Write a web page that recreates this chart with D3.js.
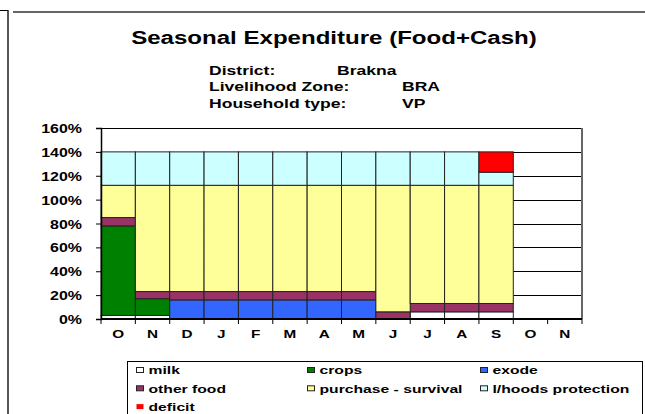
<!DOCTYPE html>
<html>
<head>
<meta charset="utf-8">
<script src="https://cdn.jsdelivr.net/npm/d3@7"></script>
<style>
  body { margin: 0; background: #fff; }
  svg { font-family: "Liberation Sans", Arial, sans-serif; font-weight: bold; }
</style>
</head>
<body>
<div id="chart"></div>
<script>
// Months (two overlapping years: O..S, then empty O, N)
const months = ["O", "N", "D", "J", "F", "M", "A", "M", "J", "J", "A", "S", "O", "N"];

// Series values, % of food needs
const milk      = [3, 3, 0, 0, 0, 0, 0, 0, 0, 6, 6, 6, 0, 0];
const crops     = [75, 14, 0, 0, 0, 0, 0, 0, 0, 0, 0, 0, 0, 0];
const exode     = [0, 0, 16, 16, 16, 16, 16, 16, 0, 0, 0, 0, 0, 0];
const otherFood = [7, 6, 7, 7, 7, 7, 7, 7, 6, 7, 7, 7, 0, 0];
const purchase  = [27, 89, 89, 89, 89, 89, 89, 89, 106, 99, 99, 99, 0, 0];
const lhoods    = [28, 28, 28, 28, 28, 28, 28, 28, 28, 28, 28, 11, 0, 0];
const deficit   = [0, 0, 0, 0, 0, 0, 0, 0, 0, 0, 0, 17, 0, 0];

const yTicks = [0, 20, 40, 60, 80, 100, 120, 140, 160];

const seriesInfo = [
  { key: "milk", label: "milk", values: milk, color: "#ffffff" },
  { key: "crops", label: "crops", values: crops, color: "#008000" },
  { key: "exode", label: "exode", values: exode, color: "#3366ff" },
  { key: "other", label: "other food", values: otherFood, color: "#993366" },
  { key: "purchase", label: "purchase - survival", values: purchase, color: "#ffff99" },
  { key: "lhoods", label: "l/hoods protection", values: lhoods, color: "#ccffff" },
  { key: "deficit", label: "deficit", values: deficit, color: "#ff0000" }
];

const width = 645, height = 414;
const plot = { left: 101, right: 582, top: 128, bottom: 319 };
const SX = 1.33; // the original chart is stretched horizontally

const svg = d3.select("#chart").append("svg")
  .attr("width", width)
  .attr("height", height);

// text helper: horizontally stretched text placed at (x, y)
function label(parent, x, y, txt, size, anchor = "start") {
  return parent.append("text")
    .attr("transform", `translate(${x},${y}) scale(${SX},1)`)
    .attr("text-anchor", anchor)
    .style("font-size", size + "px")
    .attr("fill", "#000")
    .text(txt);
}

// Outer sheet frame lines
svg.append("line").attr("x1", 8).attr("x2", 8).attr("y1", 10).attr("y2", height).attr("stroke", "#555").attr("stroke-width", 2);
svg.append("line").attr("x1", 0).attr("x2", 8).attr("y1", 10.5).attr("y2", 10.5).attr("stroke", "#000");
svg.append("line").attr("x1", 13).attr("x2", width).attr("y1", 12).attr("y2", 12).attr("stroke", "#333").attr("stroke-width", 1.5);

// Title block
label(svg, 334, 43.5, "Seasonal Expenditure (Food+Cash)", 18.1, "middle");

const info = [
  ["District:", "Brakna", 337],
  ["Livelihood Zone:", "BRA", 402],
  ["Household type:", "VP", 402]
];
info.forEach((r, i) => {
  const yy = 74.5 + i * 16.5;
  label(svg, 209, yy, r[0], 13.2);
  label(svg, r[2], yy, r[1], 13.2);
});

// Scales
const x = d3.scaleBand()
  .domain(d3.range(months.length))
  .range([plot.left, plot.right])
  .padding(0);

const y = d3.scaleLinear()
  .domain([0, 160])
  .range([plot.bottom, plot.top]);

// Gridlines
svg.append("g")
  .selectAll("line")
  .data(yTicks.filter(t => t > 0))
  .join("line")
  .attr("x1", plot.left).attr("x2", plot.right)
  .attr("y1", d => Math.round(y(d)) + 0.5).attr("y2", d => Math.round(y(d)) + 0.5)
  .attr("stroke", "#000");

// Stacked bars
const table = months.map((m, i) => {
  const row = { i };
  seriesInfo.forEach(s => { row[s.key] = s.values[i]; });
  return row;
});
const layers = d3.stack().keys(seriesInfo.map(s => s.key))(table);

svg.append("g")
  .selectAll("g")
  .data(layers)
  .join("g")
  .attr("fill", (d, i) => seriesInfo[i].color)
  .selectAll("rect")
  .data(d => d.filter(p => p[1] - p[0] > 0))
  .join("rect")
  .attr("x", d => x(d.data.i))
  .attr("width", x.bandwidth())
  .attr("y", d => y(d[1]))
  .attr("height", d => y(d[0]) - y(d[1]))
  .attr("stroke", "#222")
  .attr("stroke-width", 1);

// Plot frame (right side grey)
svg.append("line")
  .attr("x1", plot.right).attr("x2", plot.right)
  .attr("y1", plot.top).attr("y2", plot.bottom)
  .attr("stroke", "#666").attr("stroke-width", 2);

// Y axis
const yAxis = svg.append("g")
  .attr("transform", `translate(${plot.left},0)`)
  .call(d3.axisLeft(y).tickValues(yTicks).tickFormat(d => d + "%").tickSize(5));
yAxis.select(".domain").attr("stroke", "#000").attr("stroke-width", 1.5);
yAxis.selectAll(".tick line").attr("stroke", "#000");
yAxis.selectAll(".tick text").remove();
yAxis.selectAll(".tick").each(function(d) {
  label(d3.select(this), -19, 4.5, d + "%", 12, "end");
});

// X axis: ticks at category boundaries, labels centred
const xAxis = svg.append("g")
  .attr("transform", `translate(0,${plot.bottom})`);
xAxis.append("line")
  .attr("x1", plot.left).attr("x2", plot.right)
  .attr("stroke", "#000").attr("stroke-width", 2);
xAxis.selectAll(".xt")
  .data(d3.range(months.length + 1))
  .join("line")
  .attr("class", "xt")
  .attr("x1", i => i < months.length ? x(i) : plot.right)
  .attr("x2", i => i < months.length ? x(i) : plot.right)
  .attr("y1", 0).attr("y2", 5)
  .attr("stroke", "#000");
months.forEach((m, i) => {
  label(xAxis, x(i) + x.bandwidth() / 2, 18.5, m, 11.5, "middle");
});

// Legend
const legend = svg.append("g");
legend.append("rect")
  .attr("x", 127.5).attr("y", 361.5)
  .attr("width", 515).attr("height", 60)
  .attr("fill", "#fff").attr("stroke", "#000");

const colX = [136, 307, 480];
seriesInfo.forEach((s, i) => {
  const cx = colX[i % 3];
  const cy = 370 + Math.floor(i / 3) * 18.3;
  const g = legend.append("g").attr("transform", `translate(${cx},${cy})`);
  g.append("rect")
    .attr("x", 0.5).attr("y", -2.5)
    .attr("width", 7).attr("height", 5)
    .attr("fill", s.color)
    .attr("stroke", s.key === "deficit" ? "none" : "#222");
  label(g, 12.5, 4.2, s.label, 11.8);
});
</script>
</body>
</html>
